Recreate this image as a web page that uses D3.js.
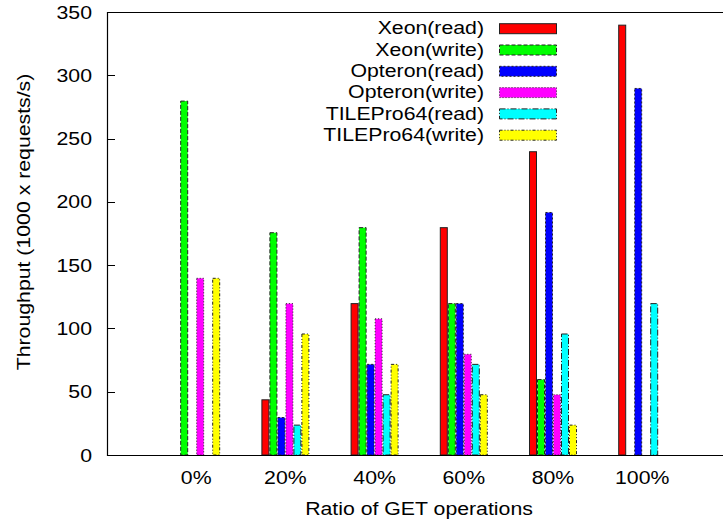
<!DOCTYPE html>
<html>
<head>
<meta charset="utf-8">
<script src="https://cdn.jsdelivr.net/npm/d3@7"></script>
<style>
body { margin: 0; background: #fff; }
text { font-family: "Liberation Sans", Arial, sans-serif; fill: #000; font-size: 18.5px; }
</style>
</head>
<body>
<script>
var categories = ["0%", "20%", "40%", "60%", "80%", "100%"];
var seriesNames = ["Xeon(read)", "Xeon(write)", "Opteron(read)", "Opteron(write)", "TILEPro64(read)", "TILEPro64(write)"];
var xeonRead = [null, 44, 120, 180, 240, 340];
var xeonWrite = [280, 176, 180, 120, 60, null];
var opteronRead = [null, 30, 72, 120, 192, 290];
var opteronWrite = [140, 120, 108, 80, 48, null];
var tileRead = [null, 24, 48, 72, 96, 120];
var tileWrite = [140, 96, 72, 48, 24, null];
var yTicks = [0, 50, 100, 150, 200, 250, 300, 350];

var colors = ["#ff0000", "#00ff00", "#0000ff", "#ff00ff", "#00ffff", "#ffff00"];
var dashes = ["none", "4,2", "2,2", "1,2", "6,2,1,2", "3,2,1,2,1,2"];
var seriesValues = [xeonRead, xeonWrite, opteronRead, opteronWrite, tileRead, tileWrite];

var width = 723, height = 521;
var plotLeft = 107, plotTop = 12, plotBottom = 455;
var barWidth = 8;
var stretch = 1.15; // the original lettering is wider than Liberation Sans

var svg = d3.select("body").append("svg")
    .attr("width", width)
    .attr("height", height);

// category index -1 sits on the left axis, 6 just past the right edge
var x = d3.scaleLinear().domain([-1, 6]).range([plotLeft, plotLeft + 89.2 * 7]);
var y = d3.scaleLinear().domain([0, 350]).range([plotBottom, plotTop]);

var addText = function(parent, tx, ty, rot, anchor, str)
{
    return parent.append("text")
        .attr("transform", "translate(" + tx + "," + ty + ") rotate(" + rot + ") scale(" + stretch + ",1)")
        .attr("text-anchor", anchor)
        .text(str);
}

var bars = [];
seriesValues.forEach(function(vals, s) {
    vals.forEach(function(v, i) {
        if (v !== null) bars.push({series: s, cat: i, value: v});
    });
});

svg.selectAll(".bar")
    .data(bars).enter()
    .append("rect")
    .attr("class", "bar")
    .attr("x", function(d) { return x(d.cat) + (d.series - 3) * barWidth + 0.5; })
    .attr("y", function(d) { return y(d.value) + 0.5; })
    .attr("width", barWidth - 1)
    .attr("height", function(d) { return y(0) - y(d.value) - 0.5; })
    .attr("fill", function(d) { return colors[d.series]; })
    .attr("stroke", "#222")
    .attr("stroke-width", 1)
    .attr("stroke-dasharray", function(d) { return dashes[d.series]; });

// frame: top, left, bottom (right side is off the picture)
svg.append("path")
    .attr("d", "M" + (width + 5) + "," + (plotTop + 0.5) + "H" + (plotLeft + 0.5) + "V" + (plotBottom + 0.5) + "H" + (width + 5))
    .attr("fill", "none")
    .attr("stroke", "#000")
    .attr("stroke-width", 1.2);

svg.selectAll(".ytick")
    .data(yTicks).enter()
    .append("line")
    .attr("class", "ytick")
    .attr("x1", plotLeft)
    .attr("x2", plotLeft + 8)
    .attr("y1", function(d) { return Math.round(y(d)) + 0.5; })
    .attr("y2", function(d) { return Math.round(y(d)) + 0.5; })
    .attr("stroke", "#000");

yTicks.forEach(function(t) {
    addText(svg, 92, y(t) + 6.6, 0, "end", t);
});

categories.forEach(function(c, i) {
    addText(svg, x(i), 484, 0, "middle", c);
});

addText(svg, 419, 515, 0, "middle", "Ratio of GET operations");
addText(svg, 30, 222, -90, "middle", "Throughput (1000 x requests/s)");

seriesNames.forEach(function(name, i) {
    var cy = 28.7 + i * 21.3;
    addText(svg, 484, cy + 5.7, 0, "end", name);
    svg.append("rect")
        .attr("x", 499.5)
        .attr("y", cy - 5)
        .attr("width", 57)
        .attr("height", 10)
        .attr("fill", colors[i])
        .attr("stroke", "#222")
        .attr("stroke-dasharray", dashes[i]);
});
</script>
</body>
</html>
